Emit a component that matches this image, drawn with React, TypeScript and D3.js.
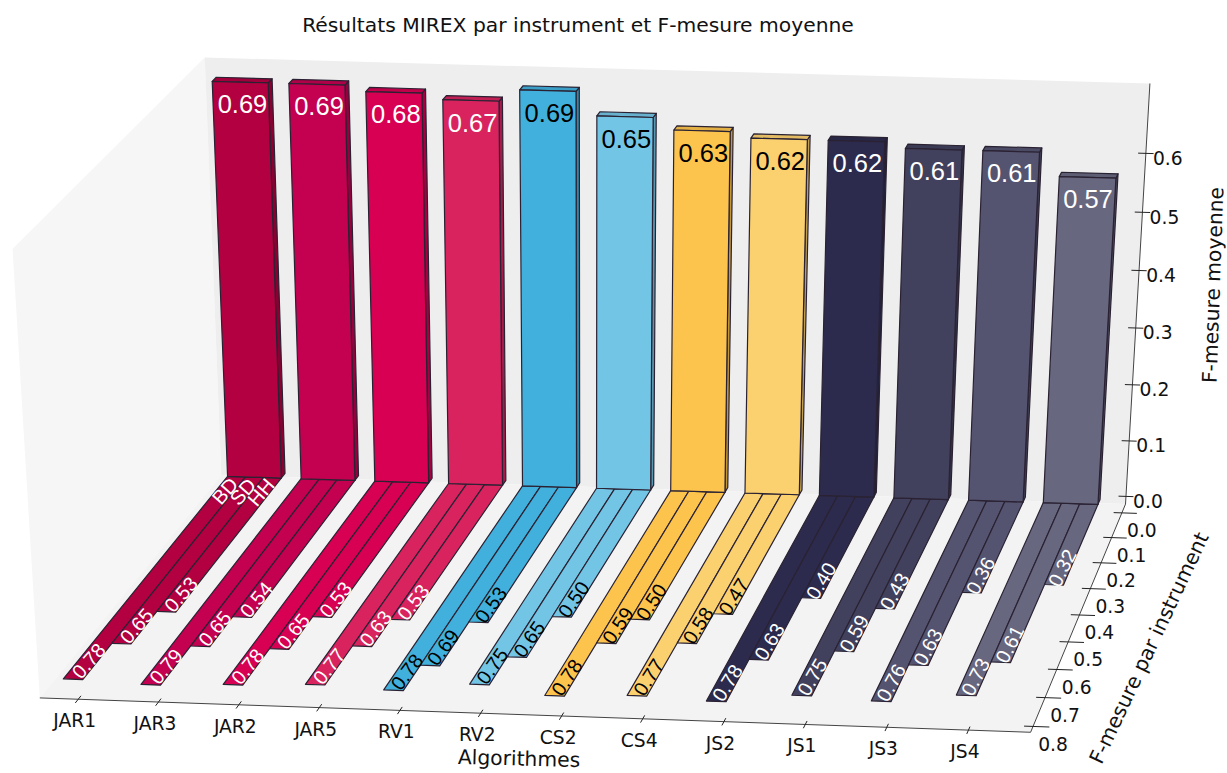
import React from "react";
import * as d3 from "d3";

const algorithms = ["JAR1","JAR3","JAR2","JAR5","RV1","RV2","CS2","CS4","JS2","JS1","JS3","JS4"];
const meanF = [0.69,0.69,0.68,0.67,0.69,0.65,0.63,0.62,0.62,0.61,0.61,0.57];
const bdF = [0.78,0.79,0.78,0.77,0.78,0.75,0.78,0.77,0.78,0.75,0.76,0.73];
const sdF = [0.65,0.65,0.65,0.63,0.69,0.65,0.59,0.58,0.63,0.59,0.63,0.61];
const hhF = [0.53,0.54,0.53,0.53,0.53,0.50,0.50,0.47,0.40,0.43,0.36,0.32];
const colors = ["#b30040","#c40050","#d70052","#d8235f","#41b0dc","#73c5e5","#fdc44d","#fbd06f","#2c2b4d","#42415d","#555470","#686780"];
const labelInk = ["#fff","#fff","#fff","#fff","#000","#000","#000","#000","#fff","#fff","#fff","#fff"];
const instruments = ["BD","SD","HH"];
const yTicks = [0,0.1,0.2,0.3,0.4,0.5,0.6,0.7,0.8];
const zTicks = [0,0.1,0.2,0.3,0.4,0.5,0.6];

const X0 = -0.48, X1 = 11.76, Y0 = -0.036, Y1 = 0.82, Z0 = -0.014, Z1 = 0.717;
const OFFSET = 0.07, HALF = 0.365, THICK = 0.02;
const sx = d3.scaleLinear().domain([X0, X1]).range([0, 1]);
const sy = d3.scaleLinear().domain([Y0, Y1]).range([0, 1]);
const sz = d3.scaleLinear().domain([Z0, Z1]).range([0, 1]);

// camera calibration: data position -> page position of recognisable corners
const calibration: number[][] = [
  [X0, Y1, Z0, 39, 697],
  [X1, Y1, Z0, 1030, 732],
  [X1, Y0, Z0, 1123, 504],
  [X0, Y0, Z0, 219, 476],
  [X1, Y0, Z1, 1148, 84],
  [X0, Y0, Z1, 202, 58],
  [X0, Y1, Z1, 11, 250],
  [OFFSET - HALF, 0, 0.69, 213, 82],
  [OFFSET + HALF, 0, 0.69, 272, 82],
  [OFFSET - HALF, 0, 0, 228, 476],
  [11 + OFFSET + HALF, 0, 0, 1103, 504],
  [11 + OFFSET - HALF, 0, 0, 1046, 504],
  [11 + OFFSET - HALF, 0, 0.57, 1062, 177],
  [11 + OFFSET + HALF, 0, 0.57, 1118, 177],
  [11 + OFFSET - HALF, 0.73, 0, 959, 696],
  [OFFSET - HALF, 0.78, 0, 66, 678],
  [0, Y1, Z0, 78, 698.4],
  [4, Y1, Z0, 399, 711],
  [11, Y1, Z0, 968, 730],
  [X1, Y0, 0.6, 1143, 152],
  [X1, Y0, 0, 1124, 496],
  [X1, 0, Z0, 1119, 513],
  [X1, 0.8, Z0, 1032, 727],
];

function solveCamera(): number[] {
  const n = 11;
  const A = Array.from({ length: n }, () => new Array(n + 1).fill(0));
  const add = (r: number[], b: number) => {
    for (let i = 0; i < n; i++) {
      for (let j = 0; j < n; j++) A[i][j] += r[i] * r[j];
      A[i][n] += r[i] * b;
    }
  };
  for (const [x, y, z, u0, v0] of calibration) {
    const X = sx(x), Y = sy(y), Z = sz(z), u = u0 / 1000, v = v0 / 1000;
    add([X, Y, Z, 1, 0, 0, 0, 0, -u * X, -u * Y, -u * Z], u);
    add([0, 0, 0, 0, X, Y, Z, 1, -v * X, -v * Y, -v * Z], v);
  }
  for (let c = 0; c < n; c++) {
    let p = c;
    for (let r = c + 1; r < n; r++) if (Math.abs(A[r][c]) > Math.abs(A[p][c])) p = r;
    [A[c], A[p]] = [A[p], A[c]];
    for (let r = 0; r < n; r++) {
      if (r === c) continue;
      const f = A[r][c] / A[c][c];
      for (let k = c; k <= n; k++) A[r][k] -= f * A[c][k];
    }
  }
  return A.map((row, i) => row[n] / row[i]);
}
const cam = solveCamera();
type P = [number, number];
const project = (x: number, y: number, z: number): P => {
  const X = sx(x), Y = sy(y), Z = sz(z);
  const w = cam[8] * X + cam[9] * Y + cam[10] * Z + 1;
  return [
    (1000 * (cam[0] * X + cam[1] * Y + cam[2] * Z + cam[3])) / w,
    (1000 * (cam[4] * X + cam[5] * Y + cam[6] * Z + cam[7])) / w,
  ];
};
const line = d3.line();
const poly = (pts: P[]) => line(pts) + "Z";
const seg = (a: P, b: P) => line([a, b]) as string;
const angleOf = (a: P, b: P) => (Math.atan2(b[1] - a[1], b[0] - a[0]) * 180) / Math.PI;

const EDGE = "#2a2233";
const SANS = "'Liberation Sans', Arial, sans-serif";
const DEJA = "'DejaVu Sans', sans-serif";
const TICK_SIZE = 18.7, AXIS_SIZE = 20.3, STRIP_SIZE = 20;

function Bar({ i }: { i: number }) {
  const a = i + OFFSET - HALF, b = i + OFFSET + HALF, h = meanF[i], c = colors[i];
  const side = d3.color(c)!.darker(0.75).formatHex();
  const top = d3.color(c)!.darker(0.3).formatHex();
  const [tx, ty] = project(i + OFFSET, 0, h - 0.037);
  return (
    <g stroke={EDGE} strokeWidth={1.2} strokeLinejoin="round">
      <path d={poly([project(b, 0, 0), project(b, -THICK, 0), project(b, -THICK, h), project(b, 0, h)])} fill={side} />
      <path d={poly([project(a, 0, h), project(b, 0, h), project(b, -THICK, h), project(a, -THICK, h)])} fill={top} />
      <path d={poly([project(a, 0, 0), project(b, 0, 0), project(b, 0, h), project(a, 0, h)])} fill={c} />
      <text x={tx + 1.5} y={ty} stroke="none" fill={labelInk[i]} fontFamily={SANS} fontSize={25.5} textAnchor="middle" dominantBaseline="central">
        {h.toFixed(2)}
      </text>
    </g>
  );
}

function Strips({ i }: { i: number }) {
  const vals = [bdF[i], sdF[i], hhF[i]];
  const w = (2 * HALF) / 3, c = colors[i], left = i + OFFSET - HALF;
  return (
    <g>
      {vals.map((v, k) => {
        const a = left + k * w, b = a + w;
        return (
          <path key={k} d={poly([project(a, 0, 0), project(b, 0, 0), project(b, v, 0), project(a, v, 0)])}
            fill={c} stroke={EDGE} strokeWidth={1.2} strokeLinejoin="round" />
        );
      })}
      {vals.map((v, k) => {
        const m = left + (k + 0.5) * w;
        const [tx, ty] = project(m, v - 0.065, 0);
        const ang = angleOf(project(m, 0, 0), project(m, v, 0));
        const rot = (ang > 90 ? ang - 180 : ang) * 0.95;
        return (
          <text key={k} transform={`translate(${tx + 1},${ty}) rotate(${rot})`} fill={labelInk[i]} fontFamily={SANS}
            fontSize={STRIP_SIZE} textAnchor="middle" dominantBaseline="central">{v.toFixed(2)}</text>
        );
      })}
      {i === 0 && instruments.map((t, k) => {
        const m = left + (k + 0.5) * w;
        const [tx, ty] = project(m, 0.06, 0);
        const ang = angleOf(project(m, 0, 0), project(m, 0.5, 0));
        const rot = (ang > 90 ? ang - 180 : ang) * 0.95;
        return (
          <text key={t} transform={`translate(${tx},${ty}) rotate(${rot})`} fill="#fff" fontFamily={SANS}
            fontSize={STRIP_SIZE} textAnchor="middle" dominantBaseline="central">{t}</text>
        );
      })}
    </g>
  );
}

export default function App() {
  const tick = { stroke: "#222", strokeWidth: 1 };
  return (
    <svg width={1227} height={773} viewBox="0 0 1227 773" style={{ position: "absolute", left: 0, top: 0, background: "#fff" }}>
      <path d={poly([project(X0, Y1, Z0), project(X0, Y1, Z1), project(X0, Y0, Z1), project(X0, Y0, Z0)])} fill="#f6f6f6" />
      <path d={poly([project(X0, Y0, Z0), project(X0, Y0, Z1), project(X1, Y0, Z1), project(X1, Y0, Z0)])} fill="#eeeeee" />
      <path d={poly([project(X0, Y1, Z0), project(X1, Y1, Z0), project(X1, Y0, Z0), project(X0, Y0, Z0)])} fill="#f3f3f3" />

      {algorithms.map((_, i) => <Strips key={i} i={i} />)}
      {algorithms.map((_, i) => <Bar key={i} i={i} />)}

      <path d={seg(project(X0, Y1, Z0), project(X1, Y1, Z0))} stroke="#444" fill="none" />
      <path d={seg(project(X1, Y0, Z0), project(X1, Y1, Z0))} stroke="#444" fill="none" />
      <path d={seg(project(X1, Y0, Z0), project(X1, Y0, Z1))} stroke="#444" fill="none" />

      {algorithms.map((t, i) => {
        const [x, y] = project(i, Y1, Z0);
        return (
          <g key={t}>
            <path d={seg(project(i, Y1 - 0.012, Z0), project(i, Y1 + 0.013, Z0))} {...tick} fill="none" />
            <text x={x - 3.5} y={y + 21.5} fontFamily={DEJA} fontSize={TICK_SIZE} textAnchor="middle" dominantBaseline="central" fill="#111">{t}</text>
          </g>
        );
      })}
      {yTicks.map((t) => {
        const [x, y] = project(X1, t, Z0);
        return (
          <g key={t}>
            <path d={seg(project(X1 - 0.11, t, Z0), project(X1 + 0.2, t, Z0))} {...tick} fill="none" />
            <text x={x + 20} y={y + 18} fontFamily={DEJA} fontSize={TICK_SIZE} textAnchor="middle" dominantBaseline="central" fill="#111">{t.toFixed(1)}</text>
          </g>
        );
      })}
      {zTicks.map((t) => {
        const [x, y] = project(X1, Y0, t);
        return (
          <g key={t}>
            <path d={seg(project(X1 - 0.1, Y0, t), project(X1 + 0.1, Y0, t))} {...tick} fill="none" />
            <text x={x + 22} y={y + 5} fontFamily={DEJA} fontSize={TICK_SIZE} textAnchor="middle" dominantBaseline="central" fill="#111">{t.toFixed(1)}</text>
          </g>
        );
      })}

      <text x={578} y={25} fontFamily={DEJA} fontSize={AXIS_SIZE} textAnchor="middle" dominantBaseline="central" fill="#111">Résultats MIREX par instrument et F-mesure moyenne</text>
      <text transform="translate(519,758.5) rotate(1.5)" fontFamily={DEJA} fontSize={AXIS_SIZE} textAnchor="middle" dominantBaseline="central" fill="#111">Algorithmes</text>
      <text transform="translate(1213,285) rotate(-88)" fontFamily={DEJA} fontSize={AXIS_SIZE} textAnchor="middle" dominantBaseline="central" fill="#111">F-mesure moyenne</text>
      <text transform="translate(1149,648) rotate(-64.8)" fontFamily={DEJA} fontSize={AXIS_SIZE} textAnchor="middle" dominantBaseline="central" fill="#111">F-mesure par instrument</text>
    </svg>
  );
}
